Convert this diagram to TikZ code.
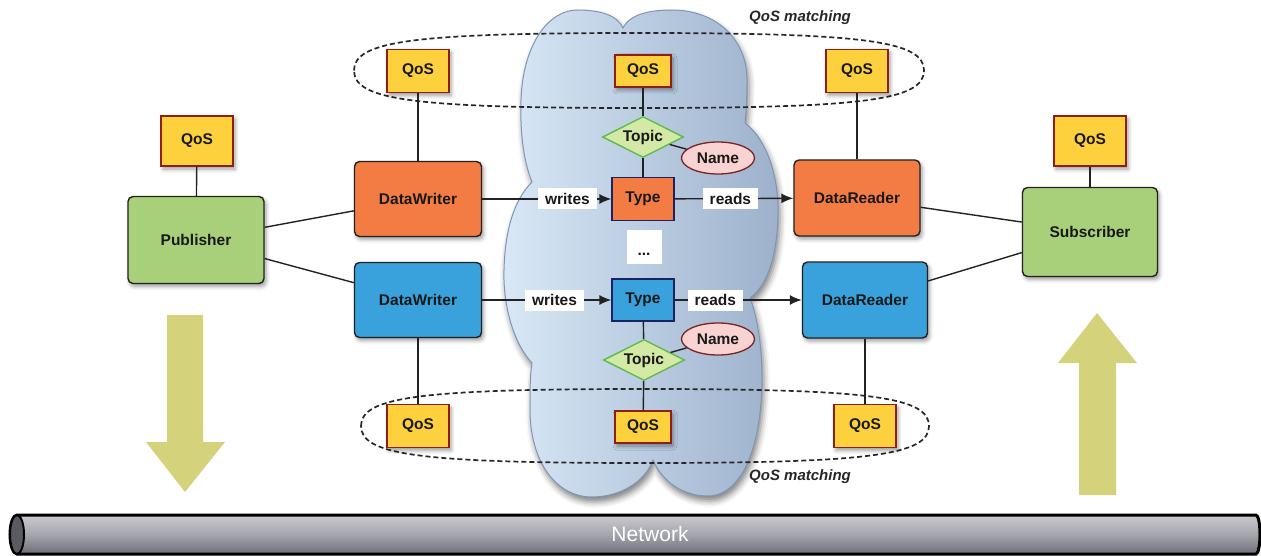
\documentclass[tikz,border=0pt]{standalone}
\usepackage{fontspec}
\setmainfont{Liberation Sans}
\usetikzlibrary{shapes.geometric,arrows.meta,shadows.blur}
\definecolor{qosF}{HTML}{FDD03E}
\definecolor{qosB}{HTML}{8E1E16}
\definecolor{orgF}{HTML}{F37C44}
\definecolor{bluF}{HTML}{39A1DB}
\definecolor{grnF}{HTML}{A8D07A}
\definecolor{topF}{HTML}{D4E9A6}
\definecolor{topB}{HTML}{5EBB4E}
\definecolor{nmF}{HTML}{F9D2D2}
\definecolor{nmB}{HTML}{7A2323}
\definecolor{navy}{HTML}{1E2160}
\definecolor{edgec}{HTML}{222222}
\definecolor{cloudL}{HTML}{D8E8F6}
\definecolor{cloudR}{HTML}{9DB1CC}
\definecolor{cloudB}{HTML}{7E96B6}
\definecolor{arr}{HTML}{D4D37B}
\definecolor{netT}{HTML}{CACACF}
\definecolor{netM}{HTML}{A5A5AD}
\definecolor{netB}{HTML}{6D6D78}
\definecolor{netFace}{HTML}{5A5A62}
\begin{document}
\begin{tikzpicture}[x=1pt,y=1pt,
  txt/.style={font=\fontsize{15.5}{18}\selectfont\bfseries, text=black!90, inner sep=0pt},
  shd/.style={blur shadow={shadow xshift=2pt, shadow yshift=-3pt, shadow blur radius=4pt, shadow opacity=40}},
  qosbox/.style={txt, shd, draw=qosB, fill=qosF, line width=1.4, minimum width=62, minimum height=43},
  qossmall/.style={qosbox, minimum width=56, minimum height=32},
  entity/.style={txt, shd, draw=edgec, line width=1.4, rounded corners=5, minimum width=127, minimum height=75},
  typebox/.style={txt, draw=navy, line width=1.3, minimum width=62, minimum height=43},
  topicbox/.style={txt, shape=diamond, aspect=2, draw=topB, fill=topF, line width=1.4, minimum width=81, minimum height=41},
  namebox/.style={txt, shape=ellipse, draw=nmB, fill=nmF, line width=1.3, minimum width=73, minimum height=32},
  lbl/.style={txt, fill=white, inner xsep=7pt, minimum height=21},
  conn/.style={draw=edgec, line width=1.4},
  flow/.style={conn, -{Latex[length=12pt,width=10pt]}},
  match/.style={font=\fontsize{15}{18}\selectfont\bfseries\itshape, text=black!85, inner sep=0pt},
  qdash/.style={draw=black!85, line width=1.7, dash pattern=on 5pt off 3pt}
]
\useasboundingbox (0,0) rectangle (1261,-556);

% cloud
\path[left color=cloudL, right color=cloudR, draw=cloudB, line width=1,
  blur shadow={shadow xshift=2pt,shadow yshift=-5pt,shadow blur radius=6pt,shadow opacity=50}]
 (623,-28) .. controls (630,-14) and (650,-10) .. (672,-10)
 .. controls (715,-10) and (747,-38) .. (747,-80)
 .. controls (747,-100) and (746,-115) .. (745,-123)
 .. controls (768,-140) and (779,-180) .. (778,-215)
 .. controls (777,-255) and (768,-285) .. (750,-298)
 .. controls (762,-330) and (765,-380) .. (759,-420)
 .. controls (752,-470) and (732,-496) .. (708,-496)
 .. controls (682,-496) and (662,-481) .. (653,-460)
 .. controls (645,-482) and (620,-497) .. (592,-497)
 .. controls (555,-497) and (530,-460) .. (530,-410)
 .. controls (530,-390) and (530,-375) .. (532,-363)
 .. controls (511,-340) and (503,-300) .. (504,-270)
 .. controls (505,-230) and (514,-200) .. (532,-182)
 .. controls (523,-160) and (520,-130) .. (521,-100)
 .. controls (523,-42) and (550,-10) .. (577,-10)
 .. controls (600,-10) and (617,-15) .. (623,-28) -- cycle;

% QoS matching outlines
\draw[qdash] (354,-70.5) .. controls (354,-40.9) and (414,-33) .. (639,-33)
  .. controls (864,-33) and (924,-40.9) .. (924,-70.5)
  .. controls (924,-100.1) and (864,-108) .. (639,-108)
  .. controls (414,-108) and (354,-100.1) .. (354,-70.5) -- cycle;
\draw[qdash] (361,-426) .. controls (361,-396.8) and (421,-389) .. (645,-389)
  .. controls (869,-389) and (929,-396.8) .. (929,-426)
  .. controls (929,-455.2) and (869,-463) .. (645,-463)
  .. controls (421,-463) and (361,-455.2) .. (361,-426) -- cycle;
\node[match] (m1) at (800,-18) {QoS matching};
\node[match] (m2) at (800,-477) {QoS matching};

% big arrows
\fill[arr] (167,-315) -- (203,-315) -- (203,-442) -- (225,-442) -- (185,-492) -- (146,-442) -- (167,-442) -- cycle;
\fill[arr] (1079,-495) -- (1116,-495) -- (1116,-363) -- (1137,-363) -- (1097,-313) -- (1058,-363) -- (1079,-363) -- cycle;

% network bar
\path[top color=netT, bottom color=netB, middle color=netM, draw=black, line width=3]
  (17,-515) -- (1256,-515) arc[start angle=90,end angle=-90,x radius=4,y radius=19.5]
  -- (17,-554) arc[start angle=270,end angle=90,x radius=7,y radius=19.5] -- cycle;
\draw[fill=netFace, line width=2] (17,-534.5) ellipse [x radius=7, y radius=19.5];
\node[font=\fontsize{21}{24}\selectfont, text=white, inner sep=0pt] (net) at (650,-534) {Network};

% nodes
\node[qosbox, minimum width=72, minimum height=50] (pubq) at (197,-141) {QoS};
\node[entity, fill=grnF, minimum width=136, minimum height=87] (pub) at (196,-240) {Publisher};
\node[qosbox, minimum width=72, minimum height=50] (subq) at (1090,-141) {QoS};
\node[entity, fill=grnF, minimum width=135, minimum height=89] (sub) at (1090,-232) {Subscriber};

\node[entity, fill=orgF] (dw1) at (418,-199) {DataWriter};
\node[entity, fill=bluF] (dw2) at (418,-300) {DataWriter};
\node[entity, fill=orgF, minimum width=126, minimum height=76] (dr1) at (857,-198) {DataReader};
\node[entity, fill=bluF, minimum width=125, minimum height=76] (dr2) at (865,-300) {DataReader};

\node[qosbox] (q1) at (418,-71) {QoS};
\node[qossmall] (q2) at (643,-71) {QoS};
\node[qosbox] (q3) at (857,-71) {QoS};
\node[qosbox] (q4) at (418,-426) {QoS};
\node[qossmall] (q5) at (643,-427) {QoS};
\node[qosbox] (q6) at (865,-426) {QoS};

\node[topicbox] (tp1) at (643,-137) {Topic};
\node[namebox] (nm1) at (718,-158) {Name};
\node[typebox, fill=orgF] (t1) at (643,-199) {Type};
\node[txt, fill=white, minimum width=35, minimum height=33, text height=17, text depth=0] (dots) at (644,-247) {...};
\node[typebox, fill=bluF, minimum height=42] (t2) at (643,-300) {Type};
\node[topicbox] (tp2) at (644,-360) {Topic};
\node[namebox] (nm2) at (718,-339) {Name};

% connectors
\draw[conn] (pubq) -- (pub);
\draw[conn] (subq) -- (sub);
\draw[conn] (pub) -- (dw1);
\draw[conn] (pub) -- (dw2);
\draw[conn] (dr1) -- (sub);
\draw[conn] (dr2) -- (sub);
\draw[conn] (q1) -- (dw1);
\draw[conn] (q4) -- (dw2);
\draw[conn] (q3) -- (dr1);
\draw[conn] (q6) -- (dr2);
\draw[conn] (q2) -- (tp1);
\draw[conn] (tp1) -- (t1);
\draw[conn] (tp1) -- (nm1);
\draw[conn] (t2) -- (tp2);
\draw[conn] (tp2) -- (q5);
\draw[conn] (tp2) -- (nm2);
\draw[flow] (dw1) -- node[lbl, pos=0.66] {writes} (t1);
\draw[flow] (t1) -- node[lbl, pos=0.47] {reads} (dr1);
\draw[flow] (dw2) -- node[lbl, pos=0.56] {writes} (t2);
\draw[flow] (t2) -- node[lbl, pos=0.32] {reads} (dr2);
\end{tikzpicture}
\end{document}
